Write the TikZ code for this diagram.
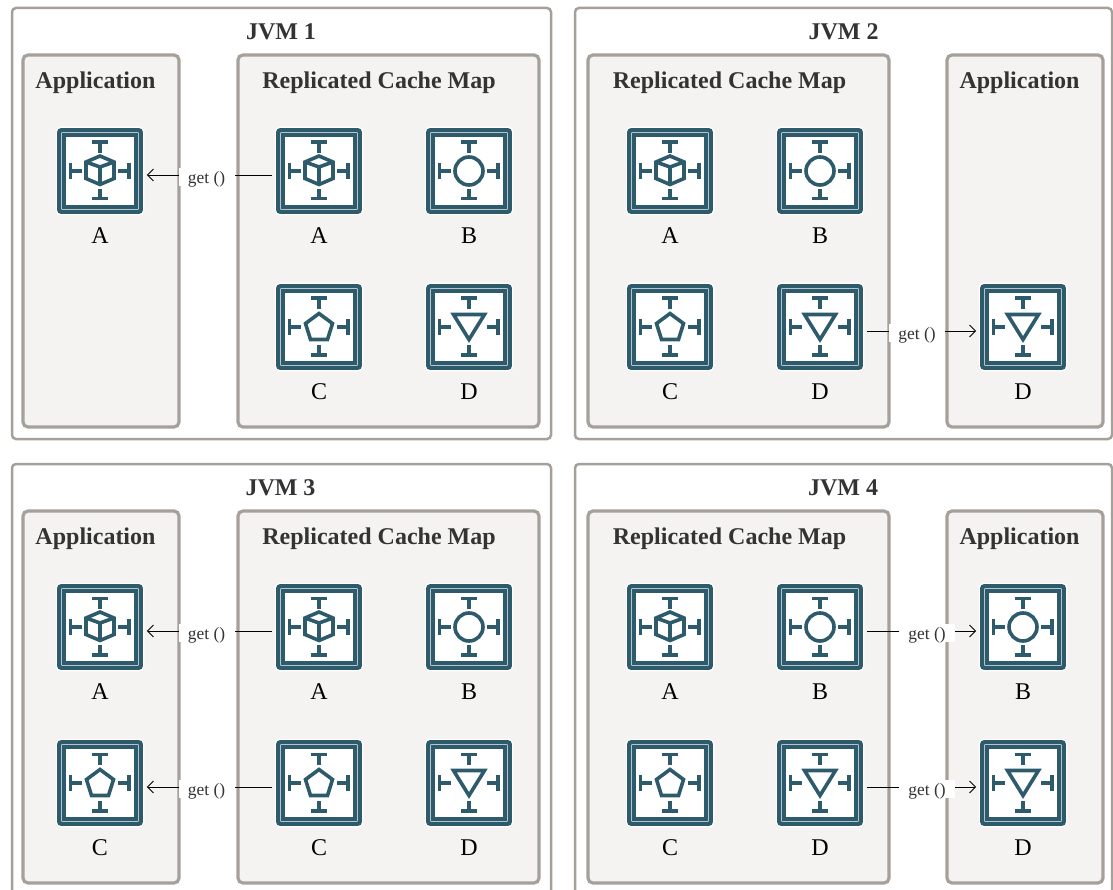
\documentclass[tikz,border=0pt]{standalone}
\usepackage{fontspec}
\setmainfont{Liberation Serif}
\usepackage{xcolor}
\usetikzlibrary{positioning,arrows.meta}
\definecolor{jvmedge}{RGB}{166, 160, 154}
\definecolor{jvmfill}{RGB}{244, 243, 242}
\definecolor{jvmteal}{RGB}{46, 91, 108}
\definecolor{jvmtext}{RGB}{51, 51, 51}
\tikzset{
  jvmbox/.style={draw=jvmedge, line width=2.5pt, fill=white, rounded corners=4pt},
  innerbox/.style={draw=jvmedge, line width=3.2pt, fill=jvmfill, rounded corners=5pt},
  heading/.style={font=\fontsize{24}{26}\selectfont\bfseries, text=jvmtext, inner sep=0pt},
  iconbox/.style={draw=jvmteal, line width=4.2pt, fill=white, rounded corners=2pt, minimum size=81.5pt, inner sep=0pt,
    preaction={draw=white, line width=7pt}},
  iconlabel/.style={font=\fontsize{24}{26}\selectfont, text=black, inner sep=0pt, outer sep=0pt, text height=16pt, text depth=0pt},
  getline/.style={-{Straight Barb[length=6pt,width=12pt]}, line width=0.9pt, black, shorten <=4pt, shorten >=4pt},
  getlabel/.style={font=\fontsize{17.4}{19}\selectfont, text=jvmtext, fill=white, minimum width=56pt, text height=15.5pt, text depth=3pt, inner sep=0pt},
  glyph/.style={draw=jvmteal, line width=3.6pt, line join=miter},
  frame/.pic={
    \draw[jvmteal, line width=3.4pt] (-36,-36) rectangle (36,36);
    \draw[glyph] (-8,-28.7) -- (8,-28.7) (0,-28.7) -- (0,-18);
    \draw[glyph] (-8,27.7) -- (8,27.7) (0,27.7) -- (0,18);
    \draw[glyph] (-29.5,-8) -- (-29.5,8) (-29.5,0) -- (-18,0);
    \draw[glyph] (29,-8) -- (29,8) (29,0) -- (17.5,0);
  },
  cubeglyph/.pic={
    \pic {frame};
    \draw[glyph] (0,-15) -- (14,-9) -- (14,7.5) -- (0,13.5) -- (-14,7.5) -- (-14,-9) -- cycle;
    \draw[glyph] (-14,-9) -- (0,-4) -- (14,-9) (0,-4) -- (0,13.5);
  },
  circleglyph/.pic={
    \pic {frame};
    \draw[glyph] (0,0) circle (14);
  },
  pentaglyph/.pic={
    \pic {frame};
    \draw[glyph] (0,-13.5) -- (13.5,-3.5) -- (8.5,12.5) -- (-8.5,12.5) -- (-13.5,-3.5) -- cycle;
  },
  triglyph/.pic={
    \pic {frame};
    \draw[glyph] (-15.5,-12.5) -- (15.5,-12.5) -- (0,12.5) -- cycle;
  }
}
% name, x, y, glyph, text
\newcommand{\cacheicon}[5]{
  \node[iconbox] (#1) at (#2,#3) {};
  \pic at (#1) {#4};
  \node[iconlabel, below=13.5pt of #1] (#1text) {#5};
}
\begin{document}
\begin{tikzpicture}[x=1pt,y=-1pt]
\clip (0,0) rectangle (1113,890);

% JVM 1
\begin{scope}[shift={(0,0)}]
\draw[jvmbox] (12,8) rectangle (551,439);
\node[heading] (title1) at (281,32) {JVM 1};
\draw[innerbox] (23,55) rectangle (179,427);
\draw[innerbox] (238,55) rectangle (539,427);
\node[heading] (appname1) at (95.5,83) {Application};
\node[heading] (mapname1) at (379,83) {Replicated Cache Map};
\cacheicon{appA1}{100}{171}{cubeglyph}{A}
\cacheicon{mapA1}{319}{171}{cubeglyph}{A}
\cacheicon{mapB1}{469}{171}{circleglyph}{B}
\cacheicon{mapC1}{319}{327}{pentaglyph}{C}
\cacheicon{mapD1}{469}{327}{triglyph}{D}
\draw[getline] ([yshift=-4pt]mapA1.west) -- ([yshift=-4pt]appA1.east);
\node[getlabel] (getA1) at (206.5,177) {get ()};
\end{scope}

% JVM 2
\begin{scope}[shift={(0,0)}]
\draw[jvmbox] (575,8) rectangle (1112,439);
\node[heading] (title2) at (843.5,32) {JVM 2};
\draw[innerbox] (588,55) rectangle (889,427);
\draw[innerbox] (947,55) rectangle (1103,427);
\node[heading] (mapname2) at (729.5,83) {Replicated Cache Map};
\node[heading] (appname2) at (1019.5,83) {Application};
\cacheicon{mapA2}{670}{171}{cubeglyph}{A}
\cacheicon{mapB2}{820}{171}{circleglyph}{B}
\cacheicon{mapC2}{670}{327}{pentaglyph}{C}
\cacheicon{mapD2}{820}{327}{triglyph}{D}
\cacheicon{appD2}{1023}{327}{triglyph}{D}
\draw[getline] ([yshift=-4pt]mapD2.east) -- ([yshift=-4pt]appD2.west);
\node[getlabel] (getD2) at (917,333) {get ()};
\end{scope}

% JVM 3
\begin{scope}[shift={(0,456)}]
\draw[jvmbox] (12,8) rectangle (551,440);
\node[heading] (title3) at (280.5,32) {JVM 3};
\draw[innerbox] (23,55) rectangle (179,427);
\draw[innerbox] (238,55) rectangle (539,427);
\node[heading] (appname3) at (95.5,83) {Application};
\node[heading] (mapname3) at (379,83) {Replicated Cache Map};
\cacheicon{appA3}{100}{171}{cubeglyph}{A}
\cacheicon{appC3}{100}{327}{pentaglyph}{C}
\cacheicon{mapA3}{319}{171}{cubeglyph}{A}
\cacheicon{mapB3}{469}{171}{circleglyph}{B}
\cacheicon{mapC3}{319}{327}{pentaglyph}{C}
\cacheicon{mapD3}{469}{327}{triglyph}{D}
\draw[getline] ([yshift=-4pt]mapA3.west) -- ([yshift=-4pt]appA3.east);
\draw[getline] ([yshift=-4pt]mapC3.west) -- ([yshift=-4pt]appC3.east);
\node[getlabel] (getA3) at (206.5,177) {get ()};
\node[getlabel] (getC3) at (206.5,333) {get ()};
\end{scope}

% JVM 4
\begin{scope}[shift={(0,456)}]
\draw[jvmbox] (575,8) rectangle (1112,440);
\node[heading] (title4) at (843,32) {JVM 4};
\draw[innerbox] (588,55) rectangle (889,427);
\draw[innerbox] (947,55) rectangle (1103,427);
\node[heading] (mapname4) at (729.5,83) {Replicated Cache Map};
\node[heading] (appname4) at (1019.5,83) {Application};
\cacheicon{mapA4}{670}{171}{cubeglyph}{A}
\cacheicon{mapB4}{820}{171}{circleglyph}{B}
\cacheicon{mapC4}{670}{327}{pentaglyph}{C}
\cacheicon{mapD4}{820}{327}{triglyph}{D}
\cacheicon{appB4}{1023}{171}{circleglyph}{B}
\cacheicon{appD4}{1023}{327}{triglyph}{D}
\draw[getline] ([yshift=-4pt]mapB4.east) -- ([yshift=-4pt]appB4.west);
\draw[getline] ([yshift=-4pt]mapD4.east) -- ([yshift=-4pt]appD4.west);
\node[getlabel] (getB4) at (927,177) {get ()};
\node[getlabel] (getD4) at (927,333) {get ()};
\end{scope}
\end{tikzpicture}
\end{document}
